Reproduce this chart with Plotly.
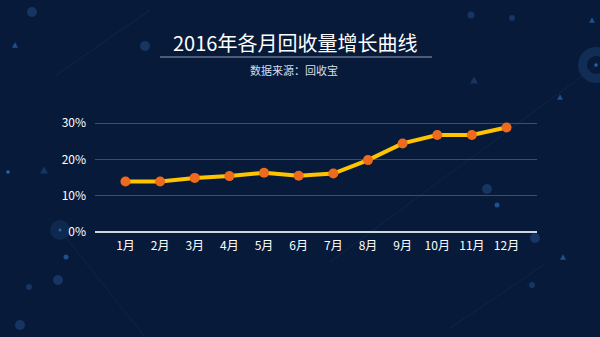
import plotly.graph_objects as go

months = ["1月", "2月", "3月", "4月", "5月", "6月", "7月", "8月", "9月", "10月", "11月", "12月"]
growth = [13.9, 13.9, 14.9, 15.4, 16.3, 15.5, 16.1, 19.8, 24.4, 26.7, 26.7, 28.8]
y_ticks = [0, 10, 20, 30]
y_labels = ["0%", "10%", "20%", "30%"]

W, H = 600, 337
L, R, T, B = 95, 537, 122, 232  # plot area in pixels
Y_MAX = 30.3

def px(x):
    return (x - L) / (R - L)

def py(y):
    return (B - y) / (B - T)

BG = "#081a39"
DIM = "#163563"
MID = "#1f4f8f"
BRIGHT = "#2e64a8"

shapes = []

def circle(cx, cy, r, color, opacity=1.0):
    shapes.append(dict(type="circle", xref="paper", yref="paper",
                       x0=px(cx - r), x1=px(cx + r), y0=py(cy + r), y1=py(cy - r),
                       fillcolor=color, line=dict(width=0), opacity=opacity, layer="below"))

def ring(cx, cy, r, width, color):
    shapes.append(dict(type="circle", xref="paper", yref="paper",
                       x0=px(cx - r), x1=px(cx + r), y0=py(cy + r), y1=py(cy - r),
                       fillcolor="rgba(0,0,0,0)", line=dict(width=width, color=color), layer="below"))

def tri(cx, cy, s, color):
    h = s * 0.9
    path = "M {} {} L {} {} L {} {} Z".format(px(cx), py(cy - h / 2), px(cx - s / 2), py(cy + h / 2), px(cx + s / 2), py(cy + h / 2))
    shapes.append(dict(type="path", xref="paper", yref="paper", path=path,
                       fillcolor=color, line=dict(width=0), layer="below"))

def seg(x0, y0, x1, y1, color, width=1):
    shapes.append(dict(type="line", xref="paper", yref="paper",
                       x0=px(x0), y0=py(y0), x1=px(x1), y1=py(y1),
                       line=dict(color=color, width=width), layer="below"))

# faint diagonal lines
LINE_C = "#0f2549"
seg(55, 76, 150, 10, LINE_C)
seg(330, 262, 600, 63, LINE_C)
seg(450, 328, 545, 264, LINE_C)
seg(60, 230, 145, 337, LINE_C)

# decorative circles / triangles
circle(32, 12, 5, DIM)
tri(15, 45, 6, MID)
circle(145, 46, 5, DIM)
circle(471, 15, 3.5, DIM)
circle(512, 18, 3, DIM)
tri(592, 20, 6, MID)
ring(596, 65, 13.5, 9, "#112c55")
circle(596, 65, 1.7, BRIGHT)
tri(474, 80, 8, DIM)
tri(560, 97, 6, MID)
circle(8, 172, 1.8, BRIGHT)
tri(44, 170, 8, DIM)
circle(60, 230, 10, "#0f284f")
circle(60, 230, 1.5, BRIGHT)
circle(66, 257, 2.5, MID)
circle(58, 280, 5, DIM)
circle(29, 287, 3, DIM)
circle(20, 325, 5, DIM)
circle(487, 189, 5, DIM)
circle(497, 205, 2.5, MID)
circle(535, 238, 5, DIM)
tri(563, 257, 6, MID)
circle(532, 285, 3, DIM)

# title underline
seg(160, 57, 432, 57, "#8f9bb5", 1)

fig = go.Figure()
fig.add_trace(go.Scatter(
    x=list(range(len(months))), y=growth, mode="lines+markers",
    line=dict(color="#ffc400", width=4),
    marker=dict(color="#f06a1e", size=10, line=dict(width=0)),
    hoverinfo="skip", showlegend=False,
))

annotations = [
    dict(text="2016年各月回收量增长曲线", xref="paper", yref="paper", x=px(295), y=py(42),
         xanchor="center", yanchor="middle", showarrow=False,
         font=dict(family="Noto Sans CJK SC", size=20, color="#ffffff")),
    dict(text="数据来源：回收宝", xref="paper", yref="paper", x=px(294), y=py(70),
         xanchor="center", yanchor="middle", showarrow=False,
         font=dict(family="Noto Sans CJK SC", size=11, color="#d8dde8")),
]

fig.update_layout(
    width=W, height=H,
    margin=dict(l=L, r=W - R, t=T, b=H - B, pad=0),
    paper_bgcolor=BG, plot_bgcolor="rgba(0,0,0,0)",
    shapes=shapes, annotations=annotations,
    font=dict(family="Noto Sans CJK SC", color="#ffffff"),
    xaxis=dict(
        range=[-0.88, 11.88], tickmode="array", tickvals=list(range(len(months))), ticktext=months,
        showgrid=False, zeroline=False, showline=False, ticks="", ticklen=0,
        ticklabelstandoff=5,
        tickfont=dict(size=12, color="#ffffff"), fixedrange=True,
    ),
    yaxis=dict(
        range=[0, Y_MAX], tickmode="array", tickvals=y_ticks, ticktext=y_labels,
        showgrid=True, gridcolor="#3a4e72", gridwidth=1,
        zeroline=True, zerolinecolor="#d0d4dc", zerolinewidth=2,
        showline=False, ticks="", ticklabelstandoff=8,
        tickfont=dict(size=12, color="#ffffff"), fixedrange=True,
    ),
)

fig.write_html("out.html")
